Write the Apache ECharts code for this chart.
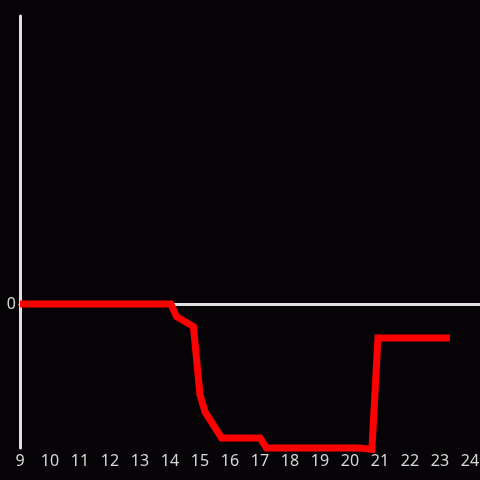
<!DOCTYPE html>
<html>
<head>
<meta charset="utf-8">
<script src="https://cdn.jsdelivr.net/npm/echarts@6/dist/echarts.min.js"></script>
<style>
  html, body { margin: 0; padding: 0; background: #050306; }
  #chart { width: 480px; height: 480px; }
</style>
</head>
<body>
<div id="chart"></div>
<script>
  // hours of the day and the value at each point
  const hours = [9, 14.03, 14.22, 14.78, 15.0, 15.17, 15.72, 17.0, 17.22, 20.33, 20.73, 20.93, 23.33];
  const values = [0, 0, -0.088, -0.157, -0.63, -0.75, -0.93, -0.93, -1.0, -1.0, -1.01, -0.236, -0.236];
  const xTicks = [9, 24];

  const chart = echarts.init(document.getElementById("chart"));

  chart.setOption({
    backgroundColor: "#050306",
    animation: false,
    grid: {
      left: 20,
      right: 0,
      top: 16,
      bottom: 32,
      outerBoundsMode: "none"
    },
    xAxis: [
      {
        type: "value",
        min: xTicks[0],
        max: 24.333,
        interval: 1,
        axisLine: { show: false, onZero: false },
        axisTick: { show: false },
        splitLine: { show: false },
        axisLabel: {
          color: "#d8d8d8",
          fontSize: 16,
          margin: 5,
          fontFamily: "Noto Sans",
          formatter: function (v) { return v <= xTicks[1] ? String(v) : ""; }
        }
      },
      {
        type: "value",
        min: xTicks[0],
        max: 24.333,
        position: "bottom",
        axisLine: { show: true, onZero: true, lineStyle: { color: "#e0e0e0", width: 3 } },
        axisTick: { show: false },
        axisLabel: { show: false },
        splitLine: { show: false }
      }
    ],
    yAxis: {
      type: "value",
      min: -1,
      max: 2,
      interval: 1,
      axisLine: { show: true, onZero: false, lineStyle: { color: "#e0e0e0", width: 3 } },
      axisTick: { show: false },
      splitLine: { show: false },
      axisLabel: {
        color: "#d8d8d8",
        fontSize: 16,
        margin: 4,
        fontFamily: "Noto Sans",
        formatter: function (v) { return v === 0 ? "0" : ""; }
      }
    },
    series: [
      {
        type: "line",
        xAxisIndex: 0,
        data: hours.map((h, i) => [h, values[i]]),
        symbol: "none",
        clip: false,
        z: 5,
        lineStyle: { color: "#ff0000", width: 7, cap: "butt", join: "miter" }
      }
    ]
  });
</script>
</body>
</html>
